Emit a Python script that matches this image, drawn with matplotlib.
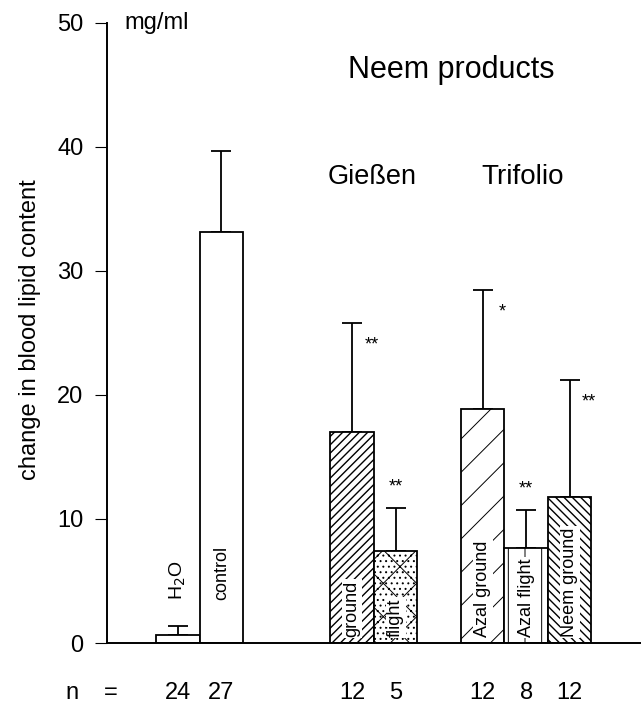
import numpy as np
import matplotlib.pyplot as plt
import matplotlib.transforms as mtransforms

plt.rcParams['font.family'] = ['Liberation Sans', 'DejaVu Sans']
plt.rcParams['hatch.linewidth'] = 1.0

# Groups (bar positions leave gaps between the three blocks)
labels = ["H$_2$O", "control", "ground", "flight", "Azal ground", "Azal flight", "Neem ground"]
positions = [0, 1, 4, 5, 7, 8, 9]
means = [0.65, 33.1, 17.0, 7.4, 18.9, 7.7, 11.8]
upper = [1.4, 39.7, 25.8, 10.9, 28.5, 10.7, 21.2]
n_values = [24, 27, 12, 5, 12, 8, 12]
hatches = ["", "", "////", "x...", "/", "|", "\\\\\\\\"]
signif = ["", "", "**", "**", "*", "**", "**"]

fig = plt.figure(figsize=(6.41, 7.04), dpi=100)
ax = fig.add_axes([0.167, 0.0866, 0.833, 0.881])

err = np.array(upper) - np.array(means)
bars = ax.bar(positions, means, width=1.0, color="white", edgecolor="black",
              linewidth=1.3, hatch=hatches, zorder=2)
# lighter hatching for the sparse patterns
for i in (3, 4, 5):
    if hasattr(bars[i], "set_hatch_linewidth"):
        bars[i].set_hatch_linewidth(0.7)
ax.errorbar(positions, means, yerr=[np.zeros(len(err)), err], fmt="none",
            ecolor="black", elinewidth=1.3, capsize=7.5, capthick=1.3, zorder=1)

# labels inside / above the bars
for i, (p, lab) in enumerate(zip(positions, labels)):
    if i == 0:
        ax.text(p, 3.5, lab, rotation=90, ha="center", va="bottom", fontsize=14)
    elif i == 1:
        ax.text(p, 3.5, lab, rotation=90, ha="center", va="bottom", fontsize=13,
                bbox=dict(facecolor="white", edgecolor="none", pad=1), zorder=3)
    else:
        ax.text(p, 0.5, lab, rotation=90, ha="center", va="bottom", fontsize=13,
                bbox=dict(facecolor="white", edgecolor="none", pad=1), zorder=3)

# significance stars
for p, m, u, s in zip(positions, means, upper, signif):
    if not s:
        continue
    if u - m > 6:
        ax.text(p + 0.45, u - 1.8, s, ha="center", va="center", fontsize=13)
    else:
        ax.text(p, u + 1.7, s, ha="center", va="center", fontsize=13)

ax.set_xlim(-1.63, 10.64)
ax.set_ylim(0, 50)
ax.set_yticks([0, 10, 20, 30, 40, 50])
ax.set_xticks([])
ax.tick_params(axis="y", labelsize=17, length=9, width=0.8, pad=8)
for side in ["top", "right"]:
    ax.spines[side].set_visible(False)
ax.spines["left"].set_linewidth(1.4)
ax.spines["bottom"].set_linewidth(1.4)

fig.text(30 / 641, 1 - 330 / 704, "change in blood lipid content", rotation=90,
         ha="center", va="center", fontsize=17)

ax.text(-1.22, 50, "mg/ml", ha="left", va="center", fontsize=17)
ax.text(6.28, 46.2, "Neem products", ha="center", va="center", fontsize=22)
ax.text(4.46, 37.6, "Gießen", ha="center", va="center", fontsize=19.5)
ax.text(7.93, 37.6, "Trifolio", ha="center", va="center", fontsize=20)

# n row below the axis
trans = mtransforms.blended_transform_factory(ax.transData, ax.transAxes)
ny = (643 - 693) / 620
for p, n in zip(positions, n_values):
    ax.text(p, ny, str(n), transform=trans, ha="center", va="center", fontsize=17)
ax.text(-0.066, ny, "n", transform=ax.transAxes, ha="center", va="center", fontsize=17)
ax.text(0.006, ny, "=", transform=ax.transAxes, ha="center", va="center", fontsize=17)

fig.savefig("out.png", dpi=100)
